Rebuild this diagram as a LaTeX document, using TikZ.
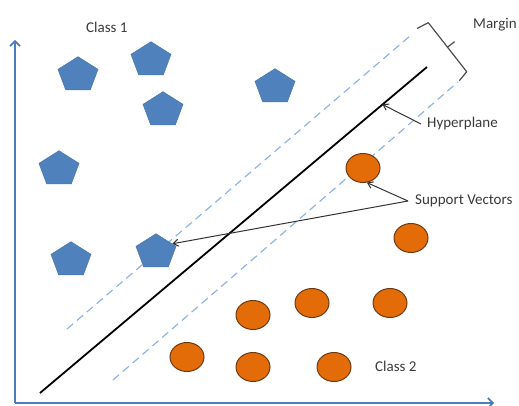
\documentclass[tikz,border=0pt]{standalone}
\usepackage{fontspec}
\setmainfont{Carlito}
\usetikzlibrary{arrows.meta,shapes.geometric,calc}
\definecolor{pentblue}{HTML}{4F81BD}
\definecolor{axisblue}{HTML}{4A7EBB}
\definecolor{dashblue}{HTML}{8EB4E3}
\definecolor{orfill}{HTML}{E36C09}
\definecolor{ordraw}{HTML}{6E3810}
\definecolor{txt}{HTML}{3A3A3A}
\newcommand{\pentat}[3]{\begin{scope}[shift={(#2,#3)}]\node[penta] (#1) {};\end{scope}}
\begin{document}
\begin{tikzpicture}[x=1pt,y=-1pt,
  penta/.style={regular polygon, regular polygon sides=5, minimum size=36.6pt, inner sep=0pt,
    fill=pentblue, draw=pentblue!92!black, line width=0.5pt, xscale=1.15, transform shape},
  orb/.style={ellipse, minimum width=34pt, minimum height=29pt, inner sep=0pt,
    fill=orfill, draw=ordraw, line width=1pt},
  lbl/.style={text=txt, font=\fontsize{15}{17}\selectfont, inner sep=0pt, anchor=west},
  axisline/.style={draw=axisblue, line width=1.8pt, -{Straight Barb[length=5pt,width=10pt,line width=1.6pt]}},
  margline/.style={draw=dashblue, line width=1.2pt, dash pattern=on 8pt off 5pt},
  hypline/.style={draw=black, line width=1.8pt},
  conn/.style={draw=black!80, line width=1pt, -{Straight Barb[length=5pt,width=7pt]}},
  brk/.style={draw=black!70, line width=1.2pt, line join=round}]
\useasboundingbox (0,0) rectangle (519,406);

% axes
\coordinate (o) at (15,403);
\coordinate (ytop) at (15,40);
\coordinate (xend) at (494,403);
\draw[axisline] (o) -- (ytop);
\draw[axisline] (o) -- (xend);

% margin lines and hyperplane
\coordinate (m1a) at (67,329);
\coordinate (m1b) at (410,36);
\coordinate (m2a) at (113,380);
\coordinate (m2b) at (458,82);
\coordinate (h1) at (40,393);
\coordinate (h2) at (427,67);
\draw[margline] (m1a) -- (m1b);
\draw[margline] (m2a) -- (m2b);
\draw[hypline] (h1) -- (h2);

% class 1 (pentagons)
\pentat{p1}{78}{75}
\pentat{p2}{151}{60}
\pentat{p3}{163}{110}
\pentat{p4}{275}{87}
\pentat{p5}{59}{169}
\pentat{p6}{71}{260}
\pentat{p7}{156}{252}

% class 2 (circles)
\node[orb] (o1) at (363,168) {};
\node[orb] (o2) at (411,238) {};
\node[orb] (o3) at (253,315) {};
\node[orb] (o4) at (312,303) {};
\node[orb] (o5) at (390,303) {};
\node[orb] (o6) at (187,357) {};
\node[orb] (o7) at (253,367) {};
\node[orb] (o8) at (334,367) {};

% labels
\node[lbl] (c1) at (86,27) {Class 1};
\node[lbl] (c2) at (375,366) {Class 2};
\node[lbl] (mg) at (473,25) {Margin};
\node[lbl, inner xsep=6pt] (hyl) at (421,124) {Hyperplane};
\node[lbl, inner xsep=7pt] (sv) at (408,201) {Support Vectors};

% margin bracket
\coordinate (b1) at (417,28.5);
\coordinate (b2) at (428.3,22.7);
\coordinate (b3) at (466.7,71.7);
\coordinate (b4) at (459.3,80.7);
\coordinate (bm) at ($(b2)!0.5!(b3)$);
\coordinate (bt) at ($(bm)!9pt!90:(b3)$);
\draw[brk] (b1) -- (b2) -- (b3) -- (b4);
\draw[brk] (bm) -- (bt);

% connectors
\coordinate (hp) at ($(h1)!0.885!(h2)$);
\draw[conn] (hyl.west) -- (hp);
\draw[conn] (sv.west) -- (o1.-75);
\draw[conn] (sv.west) -- (p7.30);
\end{tikzpicture}
\end{document}
